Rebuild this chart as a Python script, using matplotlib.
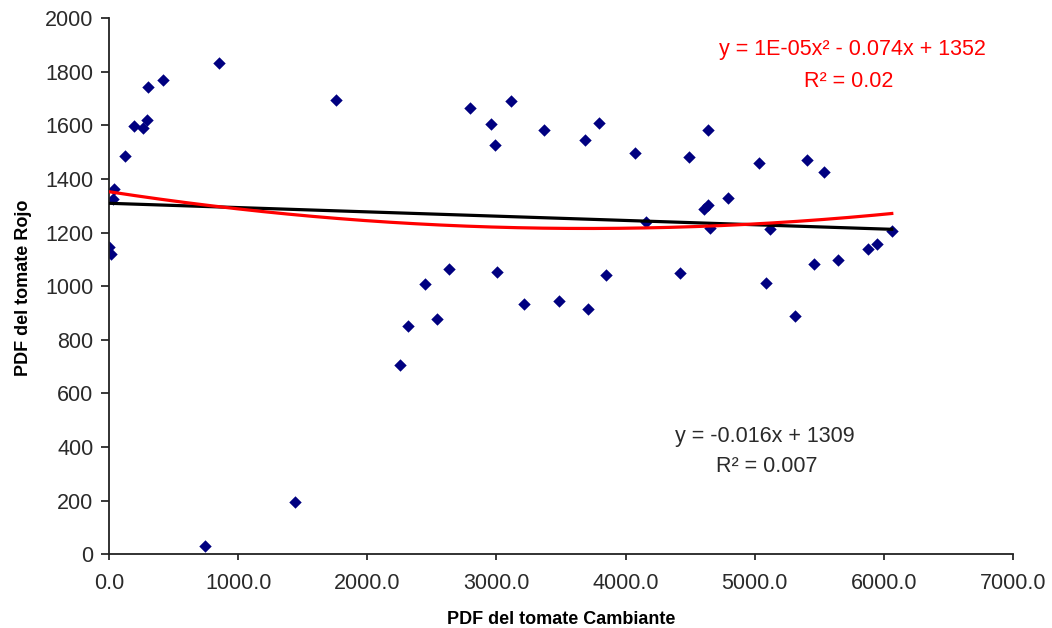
import numpy as np
import matplotlib
matplotlib.use("Agg")
import matplotlib.pyplot as plt

# ---- data ----
x_vals = [0, 11, 26, 37, 122, 192, 259, 290, 303, 415, 744, 847, 1440, 1756,
          2256, 2318, 2443, 2538, 2634, 2797, 2958, 2989, 3007, 3113, 3212,
          3367, 3484, 3688, 3712, 3795, 3852, 4077, 4157, 4424, 4494, 4605,
          4636, 4636, 4654, 4797, 5035, 5087, 5122, 5315, 5408, 5460, 5540,
          5647, 5882, 5947, 6063]
y_vals = [1145, 1120, 1326, 1362, 1486, 1598, 1590, 1620, 1741, 1770, 31, 1832,
          196, 1693, 707, 853, 1007, 879, 1063, 1664, 1606, 1528, 1051, 1690,
          933, 1583, 945, 1546, 915, 1610, 1042, 1496, 1241, 1048, 1480, 1287,
          1301, 1581, 1216, 1327, 1459, 1013, 1212, 888, 1469, 1084, 1424,
          1098, 1138, 1159, 1206]

quad_coef = [1e-05, -0.074, 1352]     # y = 1E-05x² - 0.074x + 1352
lin_coef = [-0.016, 1309]             # y = -0.016x + 1309
quad_label = ["y = 1E-05x² - 0.074x + 1352", "R² = 0.02"]
lin_label = ["y = -0.016x + 1309", "R² = 0.007"]

x_ticks = [0, 1000, 2000, 3000, 4000, 5000, 6000, 7000]
y_ticks = [0, 200, 400, 600, 800, 1000, 1200, 1400, 1600, 1800, 2000]
x_title = "PDF del tomate Cambiante"
y_title = "PDF del tomate Rojo"

# ---- figure ----
plt.rcParams['font.family'] = ['Liberation Sans', 'DejaVu Sans']
W, H = 1052, 628
fig = plt.figure(figsize=(W / 100, H / 100), dpi=100)
ax = fig.add_axes([109.3 / W, 1 - 554.3 / H, (1012.7 - 109.3) / W, (554.3 - 18) / H])

ax.scatter(x_vals, y_vals, marker='D', s=40, color='#000080', linewidths=0, zorder=2)

xs = np.linspace(min(x_vals), max(x_vals), 400)
ax.plot(xs, np.polyval(lin_coef, xs), color='black', lw=2.3, zorder=3)
ax.plot(xs, np.polyval(quad_coef, xs), color='#FF0000', lw=2.3, zorder=3)

ax.set_xlim(0, 7000)
ax.set_ylim(0, 2000)
ax.set_xticks(x_ticks)
ax.set_yticks(y_ticks)
ax.set_xticklabels([f"{v:.1f}" for v in x_ticks])
ax.set_yticklabels([f"{v}" for v in y_ticks])
ax.tick_params(axis='both', direction='out', width=1.3, colors='#2a2a2a', labelsize=15.5)
ax.tick_params(axis='x', length=4.5, pad=9)
ax.tick_params(axis='y', length=5.5, pad=6)
for s in ['top', 'right']:
    ax.spines[s].set_visible(False)
for s in ['left', 'bottom']:
    ax.spines[s].set_linewidth(1.3)
    ax.spines[s].set_color('#222222')

fig.text(561 / W, 1 - 624 / H, x_title, ha='center', va='baseline',
         fontsize=13, fontweight='bold', color='black')
fig.text(28 / W, 1 - 288 / H, y_title, ha='center', va='baseline', rotation=90,
         rotation_mode='anchor', fontsize=13, fontweight='bold', color='black')

fig.text(852 / W, 1 - 55 / H, quad_label[0], ha='center', va='baseline',
         fontsize=15.5, color='#FF0000')
fig.text(849 / W, 1 - 86.7 / H, quad_label[1], ha='center', va='baseline',
         fontsize=15.5, color='#FF0000')
fig.text(765 / W, 1 - 441.7 / H, lin_label[0], ha='center', va='baseline',
         fontsize=15.5, color='#2a2a2a')
fig.text(766.5 / W, 1 - 471.7 / H, lin_label[1], ha='center', va='baseline',
         fontsize=15.5, color='#2a2a2a')

fig.savefig("out.png", dpi=100)
